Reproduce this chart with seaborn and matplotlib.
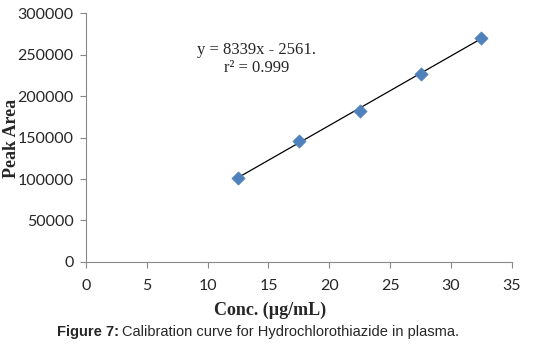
import numpy as np
import pandas as pd
import seaborn as sns
import matplotlib.pyplot as plt

# calibration data
conc = [12.5, 17.5, 22.5, 27.5, 32.5]
peak_area = [101500, 146000, 182500, 227000, 270500]
x_ticks = [0, 5, 10, 15, 20, 25, 30, 35]
y_ticks = [0, 50000, 100000, 150000, 200000, 250000, 300000]

df = pd.DataFrame({"conc": conc, "area": peak_area})

sns.set_style("white")
fig = plt.figure(figsize=(5.41, 3.54), dpi=100)
ax = fig.add_axes([0.159, 0.26, 0.787, 0.703])

# linear trendline over data range
slope, icpt = np.polyfit(df["conc"], df["area"], 1)
xs = np.array([df["conc"].min(), df["conc"].max()])
ax.plot(xs, slope * xs + icpt, color="black", lw=0.9, zorder=2)

sns.scatterplot(data=df, x="conc", y="area", ax=ax, marker="D", s=45,
                color="#4F81BD", edgecolor="#4F81BD", linewidth=0.5, zorder=3)

ax.set_xlim(0, 35)
ax.set_ylim(0, 300000)
ax.set_xticks(x_ticks)
ax.set_yticks(y_ticks)
ax.set_xticklabels([str(t) for t in x_ticks], fontfamily="Lato", fontsize=11.5)
ax.set_yticklabels([str(t) for t in y_ticks], fontfamily="Lato", fontsize=11.5)
ax.tick_params(axis="both", direction="out", length=4, width=0.8, color="#888888",
               bottom=True, left=True)
ax.tick_params(axis="x", pad=8)
ax.tick_params(axis="y", pad=5)

for side in ["top", "right"]:
    ax.spines[side].set_visible(False)
for side in ["left", "bottom"]:
    ax.spines[side].set_color("#888888")
    ax.spines[side].set_linewidth(0.8)

ax.set_xlabel("")
ax.set_ylabel("")
fig.text(0.50, 0.124, "Conc. (µg/mL)", ha="center", va="center",
         fontfamily="Liberation Serif", fontweight="bold", fontsize=13)
fig.text(0.022, 0.61, "Peak Area", ha="center", va="center", rotation=90,
         fontfamily="Liberation Serif", fontweight="bold", fontsize=13)

ax.text(14.0, 255000, "y = 8339x - 2561.", ha="center", va="center",
        fontfamily="Liberation Serif", fontsize=12)
ax.text(14.0, 234000, "r² = 0.999", ha="center", va="center",
        fontfamily="Liberation Serif", fontsize=12)

# caption: bold label + plain text
t1 = fig.text(0.105, 0.063, "Figure 7:", ha="left", va="center",
              fontfamily="Liberation Sans", fontweight="bold", fontsize=10.5)
fig.canvas.draw()
bb = t1.get_window_extent()
fig.text(bb.x1 / fig.bbox.width + 0.006, 0.063,
         "Calibration curve for Hydrochlorothiazide in plasma.",
         ha="left", va="center", fontfamily="Liberation Sans", fontsize=10.5)

fig.savefig("out.png", dpi=100)
